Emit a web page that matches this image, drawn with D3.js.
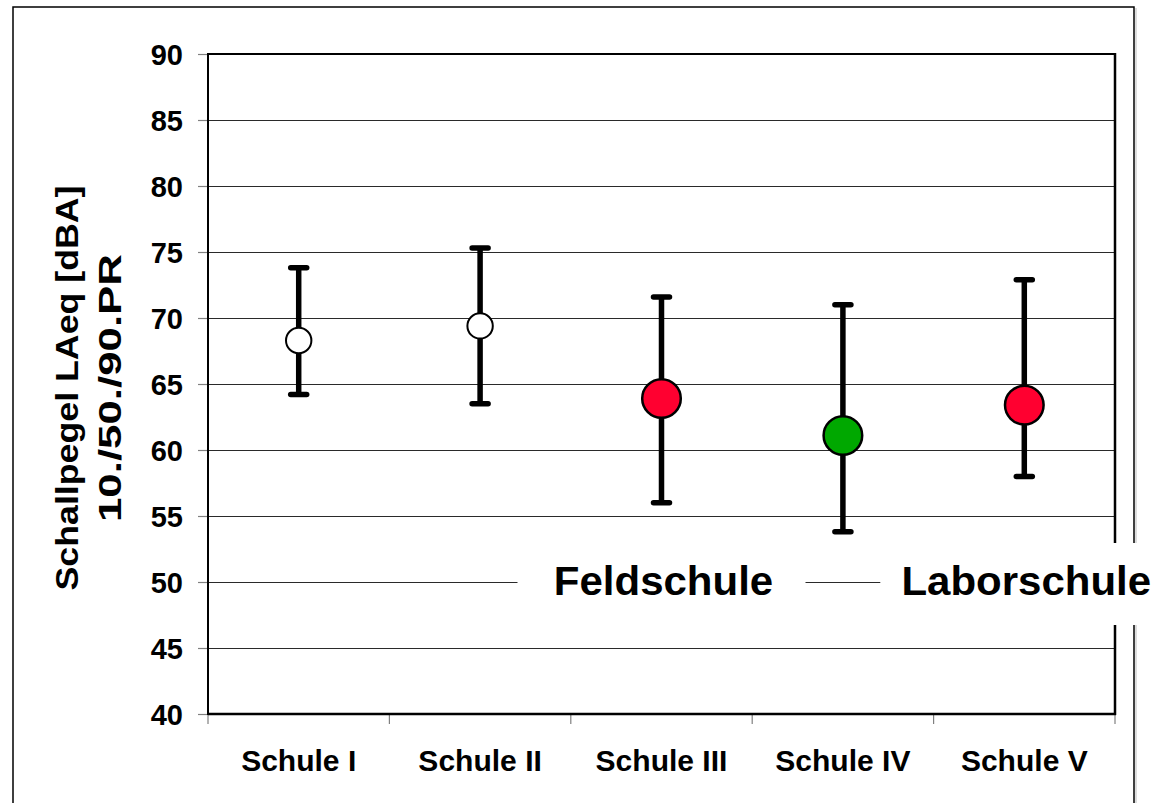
<!DOCTYPE html>
<html>
<head>
<meta charset="utf-8">
<script src="https://cdn.jsdelivr.net/npm/d3@7"></script>
<style>
  html, body { margin: 0; padding: 0; background: #fff; }
  svg { display: block; font-family: "Liberation Sans", Arial, sans-serif; font-weight: bold; }
</style>
</head>
<body>
<svg id="chart" width="1157" height="803"></svg>
<script>
// ---- data ----
const categories = ["Schule I", "Schule II", "Schule III", "Schule IV", "Schule V"];
const p10 = [64.2, 63.5, 56.0, 53.8, 58.0];
const p50 = [68.3, 69.4, 63.9, 61.1, 63.4];
const p90 = [73.8, 75.3, 71.6, 71.0, 72.9];
const markerType = ["open", "open", "feld", "labor", "feld"];
const yTicks = [40, 45, 50, 55, 60, 65, 70, 75, 80, 85, 90];
const groupLabels = [
  { text: "Feldschule", category: "Schule III" },
  { text: "Laborschule", category: "Schule V" }
];
const yTitle = ["Schallpegel LAeq [dBA]", "10./50./90.PR"];

// ---- layout ----
const svg = d3.select("#chart");
const L = 208, R = 1115, T = 54, B = 714;
const x = d3.scaleBand().domain(categories).range([L, R]).padding(0);
const y = d3.scaleLinear().domain([40, 90]).range([B, T]);
const colors = { open: "#ffffff", feld: "#ff0030", labor: "#00a800" };
const radius = { open: 12.7, feld: 19.3, labor: 19.3 };

function stretch(sel, f) {
  sel.each(function () {
    const len = this.getComputedTextLength();
    d3.select(this).attr("textLength", len * f).attr("lengthAdjust", "spacingAndGlyphs");
  });
}

// outer frame
svg.append("rect").attr("x", 13).attr("y", 7).attr("width", 1121).attr("height", 820)
  .attr("fill", "none").attr("stroke", "#000").attr("stroke-width", 1.5);
svg.append("line").attr("x1", 1136).attr("x2", 1136).attr("y1", 8).attr("y2", 803)
  .attr("stroke", "#bbb").attr("stroke-width", 1);

// gridlines
svg.append("g").selectAll("line").data(yTicks.filter(d => d > 40 && d < 90)).join("line")
  .attr("x1", L).attr("x2", R).attr("y1", d => y(d) + 0.5).attr("y2", d => y(d) + 0.5)
  .attr("stroke", "#2a2a2a").attr("stroke-width", 1);

// y axis ticks + labels
const yAxis = d3.axisLeft(y).tickValues(yTicks).tickSize(10).tickPadding(15).tickFormat(d3.format("d"));
const gy = svg.append("g").attr("transform", `translate(${L},0)`).call(yAxis);
gy.select(".domain").remove();
gy.selectAll(".tick line").attr("stroke", "#808080").attr("stroke-width", 1.2);
gy.selectAll(".tick text").attr("font-size", 29).attr("font-weight", "bold")
  .attr("font-family", "'Liberation Sans', Arial, sans-serif").attr("fill", "#000").attr("dy", "0.37em");

// x axis ticks at category boundaries
const bounds = categories.map(c => x(c)).concat([R]);
svg.append("g").selectAll("line").data(bounds).join("line")
  .attr("x1", d => d).attr("x2", d => d).attr("y1", B).attr("y2", B + 10)
  .attr("stroke", "#808080").attr("stroke-width", 1.2);
const xl = svg.append("g").selectAll("text").data(categories).join("text")
  .attr("x", d => x(d) + x.bandwidth() / 2).attr("y", 771)
  .attr("text-anchor", "middle").attr("font-size", 29).attr("fill", "#000")
  .text(d => d);
stretch(xl, 1.035);

// plot border
svg.append("line").attr("x1", L).attr("x2", R).attr("y1", T).attr("y2", T).attr("stroke", "#000").attr("stroke-width", 2);
svg.append("line").attr("x1", L).attr("x2", R + 1).attr("y1", B).attr("y2", B).attr("stroke", "#000").attr("stroke-width", 2.5);
svg.append("line").attr("x1", L).attr("x2", L).attr("y1", T - 1).attr("y2", B + 1).attr("stroke", "#000").attr("stroke-width", 2);
svg.append("line").attr("x1", R).attr("x2", R).attr("y1", T - 1).attr("y2", B + 1).attr("stroke", "#000").attr("stroke-width", 2.5);

// group label boxes + text
const gl = svg.append("g").selectAll("g").data(groupLabels).join("g");
gl.append("rect")
  .attr("x", d => x(d.category) + x.bandwidth() / 2 - 144)
  .attr("y", y(50) - 39).attr("width", 288).attr("height", 82).attr("fill", "#fff");
const glt = gl.append("text")
  .attr("x", d => x(d.category) + x.bandwidth() / 2 + 2).attr("y", y(50) + 13)
  .attr("text-anchor", "middle").attr("font-size", 40).attr("fill", "#000")
  .text(d => d.text);
stretch(glt, 1.05);

// y title
svg.append("g").selectAll("text").data(yTitle).join("text")
  .attr("transform", (d, i) => `translate(${78 + i * 43},${388}) rotate(-90)`)
  .attr("text-anchor", "middle").attr("font-size", 32).attr("fill", "#000")
  .attr("textLength", (d, i) => [405, 268][i]).attr("lengthAdjust", "spacingAndGlyphs")
  .text(d => d);

// error bars
const data = categories.map((c, i) => ({ c, lo: p10[i], mid: p50[i], hi: p90[i], t: markerType[i] }));
const eb = svg.append("g").selectAll("g").data(data).join("g")
  .attr("transform", d => `translate(${x(d.c) + x.bandwidth() / 2},0)`);
eb.append("line").attr("x1", 0).attr("x2", 0).attr("y1", d => y(d.lo)).attr("y2", d => y(d.hi))
  .attr("stroke", "#000").attr("stroke-width", 5.5);
eb.append("line").attr("x1", -8).attr("x2", 8).attr("y1", d => y(d.hi)).attr("y2", d => y(d.hi))
  .attr("stroke", "#000").attr("stroke-width", 5.5).attr("stroke-linecap", "round");
eb.append("line").attr("x1", -8).attr("x2", 8).attr("y1", d => y(d.lo)).attr("y2", d => y(d.lo))
  .attr("stroke", "#000").attr("stroke-width", 5.5).attr("stroke-linecap", "round");
eb.append("circle").attr("cx", 0).attr("cy", d => y(d.mid))
  .attr("r", d => radius[d.t]).attr("fill", d => colors[d.t])
  .attr("stroke", "#000").attr("stroke-width", d => d.t === "open" ? 2 : 2.5);
</script>
</body>
</html>
